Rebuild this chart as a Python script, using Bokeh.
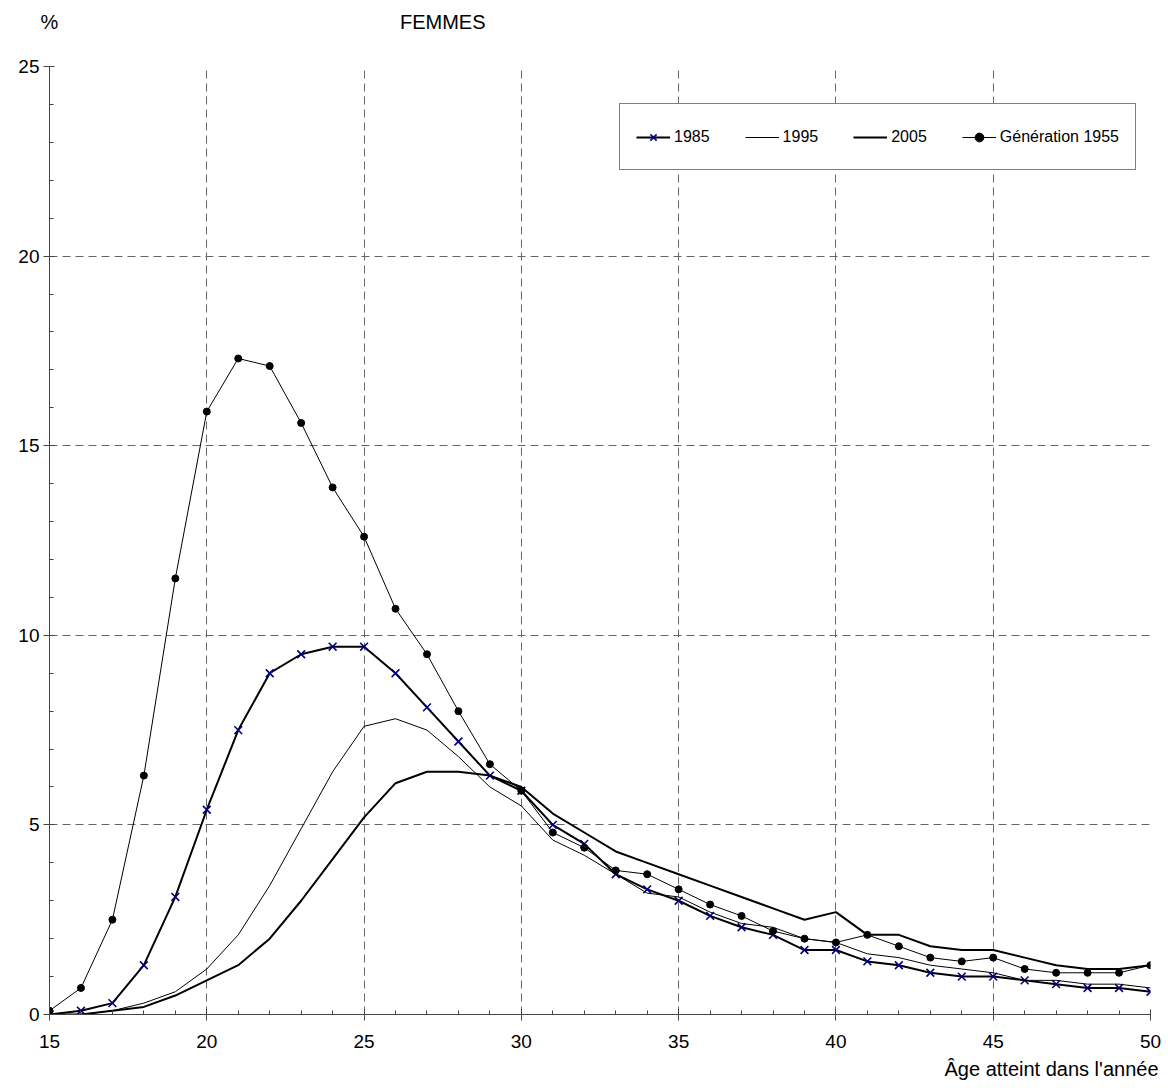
from bokeh.plotting import figure
from bokeh.models import FixedTicker, Range1d, Legend, LegendItem, LinearAxis, Title
from bokeh.embed import file_html
from bokeh.resources import INLINE

ages = [15, 16, 17, 18, 19, 20, 21, 22, 23, 24, 25, 26, 27, 28, 29, 30, 31, 32,
        33, 34, 35, 36, 37, 38, 39, 40, 41, 42, 43, 44, 45, 46, 47, 48, 49, 50]

s1985 = [0.0, 0.1, 0.3, 1.3, 3.1, 5.4, 7.5, 9.0, 9.5, 9.7, 9.7, 9.0, 8.1, 7.2, 6.3, 5.9,
         5.0, 4.5, 3.7, 3.3, 3.0, 2.6, 2.3, 2.1, 1.7, 1.7, 1.4, 1.3, 1.1, 1.0, 1.0, 0.9,
         0.8, 0.7, 0.7, 0.6]
s1995 = [0.0, 0.0, 0.1, 0.3, 0.6, 1.2, 2.1, 3.4, 4.9, 6.4, 7.6, 7.8, 7.5, 6.8, 6.0, 5.5,
         4.6, 4.2, 3.7, 3.2, 3.1, 2.7, 2.4, 2.3, 2.0, 1.9, 1.6, 1.5, 1.3, 1.2, 1.1, 0.9,
         0.9, 0.8, 0.8, 0.7]
s2005 = [0.0, 0.0, 0.1, 0.2, 0.5, 0.9, 1.3, 2.0, 3.0, 4.1, 5.2, 6.1, 6.4, 6.4, 6.3, 6.0,
         5.3, 4.8, 4.3, 4.0, 3.7, 3.4, 3.1, 2.8, 2.5, 2.7, 2.1, 2.1, 1.8, 1.7, 1.7, 1.5,
         1.3, 1.2, 1.2, 1.3]
gen1955 = [0.1, 0.7, 2.5, 6.3, 11.5, 15.9, 17.3, 17.1, 15.6, 13.9, 12.6, 10.7, 9.5, 8.0,
           6.6, 5.9, 4.8, 4.4, 3.8, 3.7, 3.3, 2.9, 2.6, 2.2, 2.0, 1.9, 2.1, 1.8, 1.5, 1.4,
           1.5, 1.2, 1.1, 1.1, 1.1, 1.3]

x_major = [15, 20, 25, 30, 35, 40, 45, 50]
y_major = [0, 5, 10, 15, 20, 25]
legend_labels = ["1985", "1995", "2005", "Génération 1955"]
title_text = "FEMMES"
y_unit = "%"
x_title = "Âge atteint dans l'année"
# x positions (in age units) of the header texts
header_pos = [15, 27.5]

FONT = "Liberation Sans"

p = figure(width=1168, height=1090, output_backend="svg", toolbar_location=None,
           x_range=Range1d(15, 50), y_range=Range1d(0, 25),
           min_border_left=49, min_border_right=18, min_border_top=66, min_border_bottom=76)
p.outline_line_color = None
p.background_fill_color = "white"
p.border_fill_color = "white"

for ax, major, minor in ((p.xaxis[0], x_major, ages), (p.yaxis[0], y_major, list(range(0, 26)))):
    ax.ticker = FixedTicker(ticks=major, minor_ticks=minor)
    ax.axis_line_color = "#444444"
    ax.major_tick_line_color = "#444444"
    ax.minor_tick_line_color = "#444444"
    ax.major_tick_in = 5
    ax.major_tick_out = 6
    ax.minor_tick_in = 4
    ax.minor_tick_out = 0
    ax.major_label_text_font = FONT
    ax.major_label_text_font_size = "19px"
    ax.major_label_text_color = "black"
p.xaxis.major_label_standoff = 14
p.yaxis.major_label_standoff = 4

for g in (p.xgrid[0], p.ygrid[0]):
    g.grid_line_color = "#666666"
    g.grid_line_dash = "8 5"
    g.grid_line_width = 1

l85 = p.line(ages, s1985, line_color="black", line_width=2)
m85 = p.scatter(ages, s1985, marker="x", size=11, line_color="#000080", line_width=1.6)
l95 = p.line(ages, s1995, line_color="black", line_width=1)
l05 = p.line(ages, s2005, line_color="black", line_width=2)
lg = p.line(ages, gen1955, line_color="black", line_width=1)
mg = p.scatter(ages, gen1955, marker="circle", size=7, fill_color="black", line_color="black")

legend = Legend(items=[
    LegendItem(label=legend_labels[0], renderers=[l85, m85]),
    LegendItem(label=legend_labels[1], renderers=[l95]),
    LegendItem(label=legend_labels[2], renderers=[l05]),
    LegendItem(label=legend_labels[3], renderers=[lg, mg]),
], location=(570, 844), orientation="horizontal")
legend.border_line_color = "black"
legend.border_line_width = 1
legend.background_fill_color = "white"
legend.background_fill_alpha = 1
legend.padding = 16
legend.margin = 0
legend.spacing = 35
legend.glyph_width = 34
legend.glyph_height = 22
legend.label_height = 33
legend.label_standoff = 4
legend.label_text_font = FONT
legend.label_text_font_size = "16px"
legend.label_text_color = "black"
p.add_layout(legend)

# header texts ("%" and "FEMMES") as labels of a bare axis above the frame
top = LinearAxis(ticker=FixedTicker(ticks=header_pos, minor_ticks=[]),
                 major_label_overrides={header_pos[0]: y_unit, header_pos[1]: title_text})
top.axis_line_color = None
top.major_tick_line_color = None
top.minor_tick_line_color = None
top.major_tick_in = 0
top.major_tick_out = 0
top.major_label_standoff = 34
top.major_label_text_font = FONT
top.major_label_text_font_size = "20px"
top.major_label_text_color = "black"
p.add_layout(top, "above")

xt = Title(text=x_title, align="right", offset=-8, standoff=11,
           text_font=FONT, text_font_size="20px", text_font_style="normal", text_color="black")
p.add_layout(xt, "below")

open("out.html", "w").write(file_html(p, INLINE))
